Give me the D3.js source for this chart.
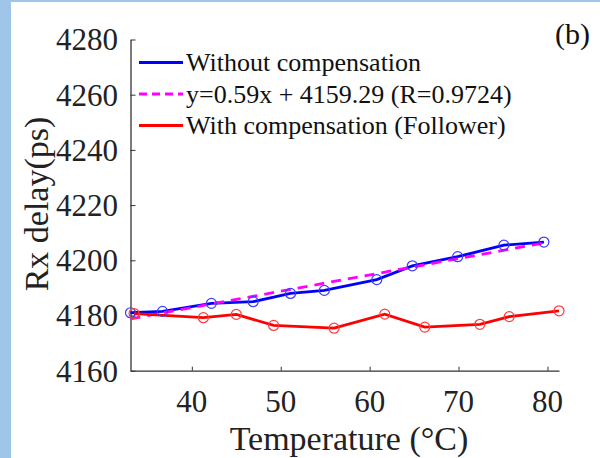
<!DOCTYPE html>
<html>
<head>
<meta charset="utf-8">
<script src="https://cdn.jsdelivr.net/npm/d3@7"></script>
<style>
  html, body { margin: 0; padding: 0; background: #fff; }
  svg { display: block; }
</style>
</head>
<body>
<svg id="chart" width="600" height="458"></svg>
<script>
// temperatures (°C) and Rx delay (ps)
const blueTemp = [33.1, 36.7, 42.2, 46.9, 51.1, 54.9, 60.8, 64.8, 69.9, 75.1, 79.6]
const blueDelay = [4181.0, 4181.5, 4184.4, 4185.0, 4188.0, 4189.1, 4193.0, 4198.0, 4201.3, 4205.5, 4206.6]
const redTemp = [33.5, 41.3, 45.0, 49.2, 56.0, 61.7, 66.2, 72.4, 75.7, 81.3]
const redDelay = [4180.7, 4179.2, 4180.4, 4176.4, 4175.4, 4180.5, 4175.8, 4176.8, 4179.6, 4181.7]
// linear fit endpoints
const fitTemp = [33.1, 79.6]
const fitDelay = [4178.8, 4206.3]

const xTicks = [40, 50, 60, 70, 80]
const yTicks = [4160, 4180, 4200, 4220, 4240, 4260, 4280]
const legendLabels = ['Without compensation', 'y=0.59x + 4159.29 (R=0.9724)', 'With compensation (Follower)']

const plot = { left: 130.5, right: 559, top: 39.5, bottom: 370.7 }
const axisColor = '#333'
const serif = 'Liberation Serif'

const svg = d3.select('#chart')

// light blue frame of the screenshot
svg.append('rect').attr('x', 0).attr('y', 0).attr('width', 600).attr('height', 2).attr('fill', '#9fc5e8')
svg.append('rect').attr('x', 0).attr('y', 0).attr('width', 11).attr('height', 458).attr('fill', '#9fc5e8')

const x = d3.scaleLinear().domain([33.1, 81.3]).range([plot.left, plot.right])
const y = d3.scaleLinear().domain([4160, 4280]).range([plot.bottom, plot.top])

const zip = (a, b) => a.map((v, i) => [v, b[i]])
const line = d3.line().x(d => x(d[0])).y(d => y(d[1]))

// axes
svg.append('g')
    .attr('transform', `translate(0, ${plot.bottom})`)
    .call(d3.axisTop(x).tickValues(xTicks).tickSize(4).tickSizeOuter(0).tickFormat(''))
svg.append('g')
    .attr('transform', `translate(${plot.left}, 0)`)
    .call(d3.axisRight(y).tickValues(yTicks).tickSize(5).tickSizeOuter(0).tickFormat(''))
svg.selectAll('.domain').attr('stroke', axisColor).attr('stroke-width', 1.3)
svg.selectAll('.tick line').attr('stroke', axisColor).attr('stroke-width', 1)

const labels = svg.append('g').attr('font-family', serif)

labels.append('g').selectAll('text')
    .data(xTicks).enter().append('text')
    .attr('x', d => x(d))
    .attr('y', 412)
    .attr('text-anchor', 'middle')
    .attr('font-size', 31)
    .attr('fill', '#222')
    .text(d => d)

labels.append('g').selectAll('text')
    .data(yTicks).enter().append('text')
    .attr('x', 118)
    .attr('y', d => y(d))
    .attr('dy', '0.35em')
    .attr('text-anchor', 'end')
    .attr('font-size', 31)
    .attr('fill', '#222')
    .text(d => d)

labels.append('text')
    .attr('x', 349).attr('y', 450)
    .attr('text-anchor', 'middle')
    .attr('font-size', 34)
    .attr('fill', '#222')
    .text('Temperature (°C)')

labels.append('text')
    .attr('transform', 'translate(48, 204) rotate(-90)')
    .attr('text-anchor', 'middle')
    .attr('font-size', 34)
    .attr('fill', '#222')
    .text('Rx delay(ps)')

labels.append('text')
    .attr('x', 590).attr('y', 44)
    .attr('text-anchor', 'end')
    .attr('font-size', 30)
    .attr('fill', '#111')
    .text('(b)')

// series
svg.append('path')
    .datum(zip(blueTemp, blueDelay))
    .attr('d', line)
    .attr('fill', 'none').attr('stroke', '#0000ff').attr('stroke-width', 2.8)

svg.append('path')
    .datum(zip(fitTemp, fitDelay))
    .attr('d', line)
    .attr('fill', 'none').attr('stroke', '#ff00ff').attr('stroke-width', 2.8)
    .attr('stroke-dasharray', '10,7')

svg.append('path')
    .datum(zip(redTemp, redDelay))
    .attr('d', line)
    .attr('fill', 'none').attr('stroke', '#ff0000').attr('stroke-width', 2.8)

svg.append('g').selectAll('circle')
    .data(zip(blueTemp, blueDelay)).enter().append('circle')
    .attr('cx', d => x(d[0])).attr('cy', d => y(d[1])).attr('r', 5)
    .attr('fill', 'none').attr('stroke', '#3b3bff').attr('stroke-width', 1.2)

svg.append('g').selectAll('circle')
    .data(zip(redTemp, redDelay)).enter().append('circle')
    .attr('cx', d => x(d[0])).attr('cy', d => y(d[1])).attr('r', 5)
    .attr('fill', 'none').attr('stroke', '#ff3b3b').attr('stroke-width', 1.2)

// legend
const legendColors = ['#0000ff', '#ff00ff', '#ff0000']
const legendDash = [null, '8,5', null]
const legend = svg.append('g').attr('font-family', serif)
legendLabels.forEach((label, i) => {
    const ly = 62.5 + i * 31.5
    legend.append('line')
        .attr('x1', 139).attr('x2', 183).attr('y1', ly).attr('y2', ly)
        .attr('stroke', legendColors[i]).attr('stroke-width', 2.8)
        .attr('stroke-dasharray', legendDash[i])
    legend.append('text')
        .attr('x', 186).attr('y', ly)
        .attr('dy', '0.33em')
        .attr('font-size', 26)
        .attr('fill', '#111')
        .text(label)
})
</script>
</body>
</html>
